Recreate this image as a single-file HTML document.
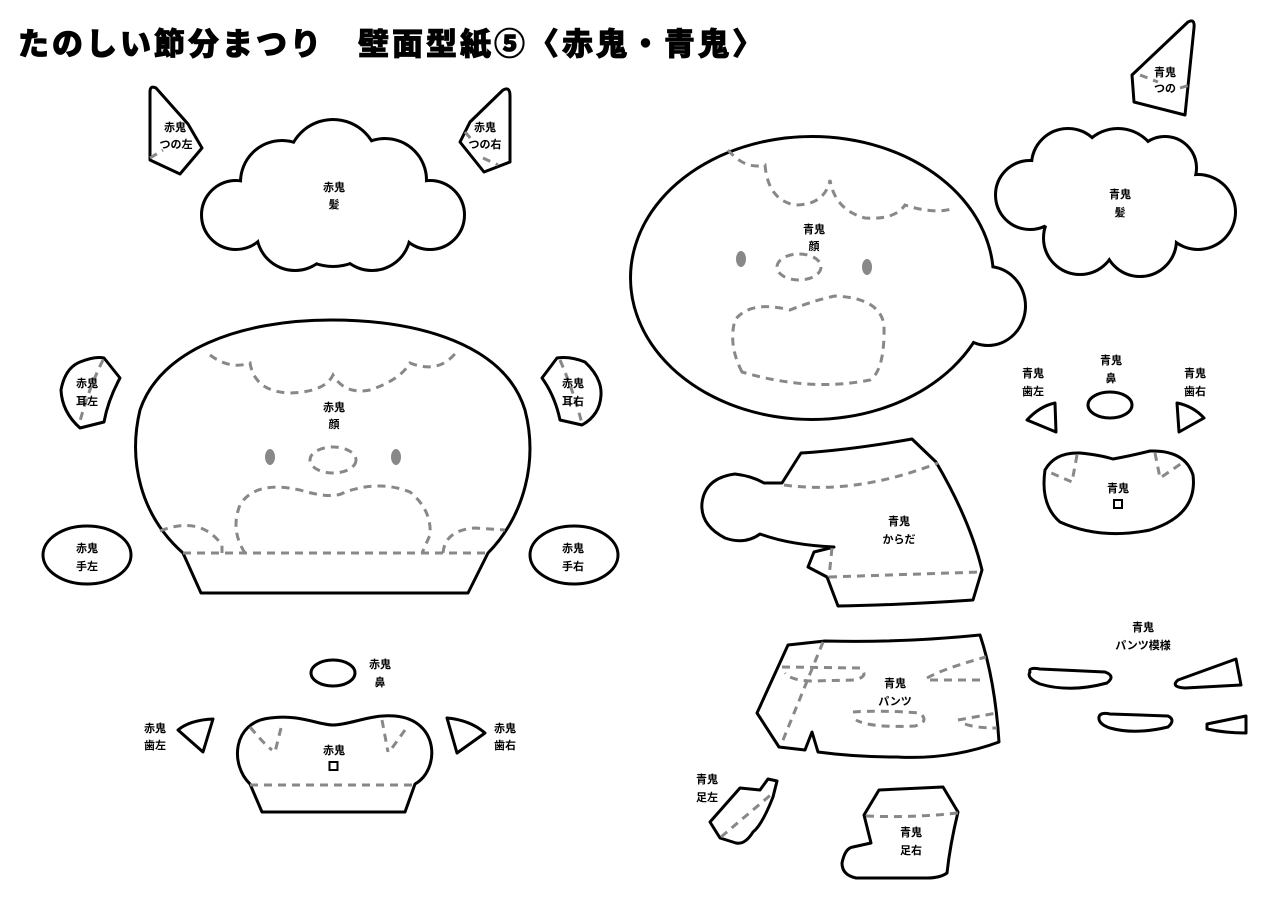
<!DOCTYPE html>
<html><head><meta charset="utf-8"><style>
html,body{margin:0;padding:0;background:#fff;width:1272px;height:900px;overflow:hidden}
svg{display:block}
.t{font-family:"Liberation Sans","Noto Sans CJK JP",sans-serif;font-weight:bold;font-size:11px;fill:#000;text-anchor:middle}
.o{fill:#fff;stroke:#000;stroke-width:3;stroke-linejoin:round}
.d{fill:none;stroke:#888;stroke-width:3;stroke-dasharray:8 6}
.u{fill:#000;stroke:#000;stroke-width:6}
.w{fill:#fff;stroke:none}
.sq{fill:none;stroke:#000;stroke-width:2}
</style></head><body>
<svg width="1272" height="900" viewBox="0 0 1272 900" xmlns="http://www.w3.org/2000/svg">
<text x="18" y="55" style="font-family:'Liberation Sans','Noto Sans CJK JP',sans-serif;font-weight:900;font-size:31px;letter-spacing:3px;stroke:#000;stroke-width:0.8">たのしい節分まつり　壁面型紙⑤〈赤鬼・青鬼〉</text>

<!-- red horns -->
<path class="o" d="M150,92 Q150,85 156,88 L188,124 L202,148 L180,174 L150,160 Z"/>
<path class="d" d="M150,158 L163,150"/>
<text class="t" x="175" y="131">赤鬼</text><text class="t" x="176" y="148">つの左</text>
<path class="o" d="M510,96 Q510,86 503,90 L470,122 L460,142 L484,172 L510,162 Z"/>
<path class="d" d="M465,132 L472,140 M483,158 L498,165"/>
<text class="t" x="485" y="131">赤鬼</text><text class="t" x="485" y="148">つの右</text>

<!-- red hair cloud -->
<g>
<g class="u"><circle cx="282" cy="182" r="40"/><circle cx="333" cy="165" r="44"/><circle cx="385" cy="180" r="40"/><circle cx="236" cy="215" r="33"/><circle cx="430" cy="215" r="33"/><circle cx="295" cy="232" r="37"/><circle cx="372" cy="232" r="37"/><circle cx="333" cy="215" r="50"/></g>
<g class="w"><circle cx="282" cy="182" r="40"/><circle cx="333" cy="165" r="44"/><circle cx="385" cy="180" r="40"/><circle cx="236" cy="215" r="33"/><circle cx="430" cy="215" r="33"/><circle cx="295" cy="232" r="37"/><circle cx="372" cy="232" r="37"/><circle cx="333" cy="215" r="50"/></g>
</g>
<text class="t" x="334" y="191">赤鬼</text><text class="t" x="334" y="208">髪</text>

<!-- red face -->
<path class="o" d="M183,553 C140,515 128,460 140,410 C160,350 240,320 331,320 C420,320 505,345 525,410 C538,460 525,515 488,553 L468,593 L201,593 Z"/>
<path class="d" d="M183,553 L488,553"/>
<path class="d" d="M210,355 Q230,370 250,363 Q255,392 290,393 Q325,392 333,375 Q345,395 370,390 Q400,380 410,363 Q440,375 458,350"/>
<ellipse cx="270" cy="457" rx="5" ry="8" fill="#888"/><ellipse cx="396" cy="457" rx="5" ry="8" fill="#888"/>
<ellipse class="d" cx="333" cy="460" rx="23" ry="13"/>
<path class="d" d="M245,553 Q230,530 240,505 Q255,480 300,490 Q333,500 345,492 Q380,480 410,492 Q432,510 430,535 L422,553"/>
<path class="d" d="M160,531 Q200,515 222,545 L222,553 M443,553 Q445,530 475,528 L505,530"/>
<text class="t" x="334" y="411">赤鬼</text><text class="t" x="334" y="428">顔</text>

<!-- red ears -->
<path class="o" d="M80,362 Q95,356 104,358 L120,378 Q108,400 104,422 L80,428 Q62,412 61,390 Q65,368 80,362 Z"/>
<path class="d" d="M103,360 Q88,390 79,425"/>
<text class="t" x="87" y="387">赤鬼</text><text class="t" x="87" y="405">耳左</text>
<path class="o" d="M557,358 Q570,356 585,362 Q602,378 601,395 Q600,415 582,425 L560,420 Q555,396 542,378 Z"/>
<path class="d" d="M560,360 Q575,395 582,424"/>
<text class="t" x="573" y="387">赤鬼</text><text class="t" x="573" y="405">耳右</text>

<!-- red hands -->
<ellipse class="o" cx="87" cy="555" rx="44" ry="29"/>
<text class="t" x="87" y="552">赤鬼</text><text class="t" x="87" y="570">手左</text>
<ellipse class="o" cx="574" cy="555" rx="44" ry="29"/>
<text class="t" x="573" y="552">赤鬼</text><text class="t" x="573" y="570">手右</text>

<!-- red nose, teeth, mouth -->
<ellipse class="o" cx="333" cy="673" rx="22" ry="13"/>
<text class="t" x="380" y="668">赤鬼</text><text class="t" x="380" y="686">鼻</text>
<path class="o" d="M178,730 Q190,720 213,719 L203,752 Z"/>
<text class="t" x="155" y="732">赤鬼</text><text class="t" x="155" y="749">歯左</text>
<path class="o" d="M447,718 Q470,720 485,733 L457,753 Z"/>
<text class="t" x="505" y="732">赤鬼</text><text class="t" x="505" y="749">歯右</text>
<path class="o" d="M250,784 C230,765 232,722 270,718 C300,714 318,725 333,725 C350,725 370,714 395,716 C440,720 440,770 415,784 L405,812 L262,812 Z"/>
<path class="d" d="M250,785 L415,785 M250,727 Q265,745 272,750 M281,728 L275,752 M382,720 L388,752 M405,730 L392,748"/>
<text class="t" x="334" y="754">赤鬼</text><rect class="sq" x="329.5" y="762" width="8" height="8"/>

<!-- blue horn -->
<path class="o" d="M1132,75 L1188,22 Q1195,18 1194,28 L1185,115 L1134,102 Z"/>
<path class="d" d="M1140,75 L1158,82 M1180,88 L1190,85"/>
<text class="t" x="1165" y="76">青鬼</text><text class="t" x="1165" y="92">つの</text>

<!-- blue hair cloud -->
<g>
<g class="u"><circle cx="1068" cy="165" r="35"/><circle cx="1118" cy="170" r="40"/><circle cx="1165" cy="168" r="30"/><circle cx="1030" cy="195" r="33"/><circle cx="1198" cy="212" r="36"/><circle cx="1080" cy="238" r="35"/><circle cx="1140" cy="240" r="35"/><circle cx="1118" cy="205" r="50"/><circle cx="1060" cy="205" r="25"/></g>
<g class="w"><circle cx="1068" cy="165" r="35"/><circle cx="1118" cy="170" r="40"/><circle cx="1165" cy="168" r="30"/><circle cx="1030" cy="195" r="33"/><circle cx="1198" cy="212" r="36"/><circle cx="1080" cy="238" r="35"/><circle cx="1140" cy="240" r="35"/><circle cx="1118" cy="205" r="50"/><circle cx="1060" cy="205" r="25"/></g>
</g>
<text class="t" x="1120" y="198">青鬼</text><text class="t" x="1120" y="216">髪</text>

<!-- blue face -->
<g>
<g class="u"><ellipse cx="812" cy="278" rx="180" ry="140"/><ellipse cx="988" cy="306" rx="36" ry="38"/></g>
<g class="w"><ellipse cx="812" cy="278" rx="180" ry="140"/><ellipse cx="988" cy="306" rx="36" ry="38"/></g>
</g>
<path class="d" d="M728,150 Q745,170 765,165 Q768,200 795,205 Q825,205 830,180 Q835,210 865,218 Q895,220 905,205 Q935,215 955,208"/>
<ellipse cx="741" cy="259" rx="5" ry="8" fill="#888"/><ellipse cx="867" cy="267" rx="5" ry="8" fill="#888"/>
<ellipse class="d" cx="799" cy="267" rx="22" ry="13"/>
<path class="d" d="M742,372 Q728,345 735,320 Q750,300 790,310 Q815,300 835,296 Q880,298 884,325 Q885,370 870,380 Q810,392 742,372 Z"/>
<text class="t" x="814" y="233">青鬼</text><text class="t" x="814" y="250">顔</text>

<!-- blue labels teeth/nose -->
<text class="t" x="1033" y="377">青鬼</text><text class="t" x="1033" y="395">歯左</text>
<text class="t" x="1111" y="364">青鬼</text><text class="t" x="1111" y="382">鼻</text>
<text class="t" x="1195" y="377">青鬼</text><text class="t" x="1195" y="395">歯右</text>
<ellipse class="o" cx="1110" cy="405" rx="22" ry="13"/>
<path class="o" d="M1027,420 Q1040,406 1055,403 L1056,432 Z"/>
<path class="o" d="M1177,403 Q1193,406 1204,418 L1179,432 Z"/>

<!-- blue mouth -->
<path class="o" d="M1045,470 Q1055,452 1080,453 Q1100,455 1113,459 Q1130,456 1150,451 Q1185,450 1193,475 Q1198,515 1150,530 Q1100,540 1060,522 Q1040,505 1045,470 Z"/>
<path class="d" d="M1077,455 L1072,482 L1049,472 M1155,453 L1160,478 L1182,463"/>
<text class="t" x="1118" y="492">青鬼</text><rect class="sq" x="1114" y="500" width="8" height="8"/>

<!-- blue body -->
<path class="o" d="M801,453 Q850,450 912,439 L936,462 Q970,520 982,570 L973,600 Q900,605 838,606 L827,577 L808,567 L814,552 L834,547 Q790,545 760,534 Q745,545 725,538 Q700,525 702,503 Q705,478 735,474 Q752,476 764,483 L782,483 Z"/>
<path class="d" d="M784,485 Q856,495 938,463 M829,577 L980,572 M832,548 L829,577"/>
<text class="t" x="899" y="525">青鬼</text><text class="t" x="899" y="543">からだ</text>

<!-- blue pants -->
<path class="o" d="M788,645 L825,641 Q900,643 980,635 Q995,680 999,742 Q950,760 897,757 Q855,757 818,752 L812,732 L805,750 L779,747 L757,713 Z"/>
<path class="d" d="M823,642 L781,745 M782,667 L860,668 Q870,676 855,680 L810,681 Q790,680 785,673 M927,678 Q945,668 986,657 M930,680 L986,680 M853,712 Q880,710 920,713 Q930,722 915,726 Q870,728 856,720 M958,720 L997,713 M965,724 Q975,728 997,728"/>
<text class="t" x="895" y="687">青鬼</text><text class="t" x="895" y="705">パンツ</text>

<!-- pants patterns -->
<text class="t" x="1143" y="631">青鬼</text><text class="t" x="1143" y="649">パンツ模様</text>
<path class="o" d="M1030,672 Q1028,667 1040,669 L1105,672 Q1116,676 1107,683 Q1070,693 1040,684 Q1026,678 1030,672 Z"/>
<path class="o" d="M1178,680 L1236,659 L1241,685 L1185,688 Q1170,687 1178,680 Z"/>
<path class="o" d="M1099,717 Q1100,712 1110,714 L1168,716 Q1176,720 1168,727 Q1135,735 1110,728 Q1098,724 1099,717 Z"/>
<path class="o" d="M1207,724 L1246,716 L1246,733 Q1225,733 1207,729 Z"/>

<!-- blue feet -->
<path class="o" d="M710,822 L740,788 L760,790 L768,779 L777,781 L773,797 Q762,825 753,832 Q745,845 736,843 L720,838 Z"/>
<path class="d" d="M721,837 L773,793"/>
<text class="t" x="707" y="783">青鬼</text><text class="t" x="707" y="801">足左</text>
<path class="o" d="M879,790 L943,787 L958,812 Q950,845 947,873 Q940,878 927,878 L856,878 Q842,875 842,863 Q845,848 853,847 L871,843 L864,815 Z"/>
<path class="d" d="M866,816 Q910,818 958,813"/>
<text class="t" x="911" y="836">青鬼</text><text class="t" x="911" y="854">足右</text>
</svg>
</body></html>
